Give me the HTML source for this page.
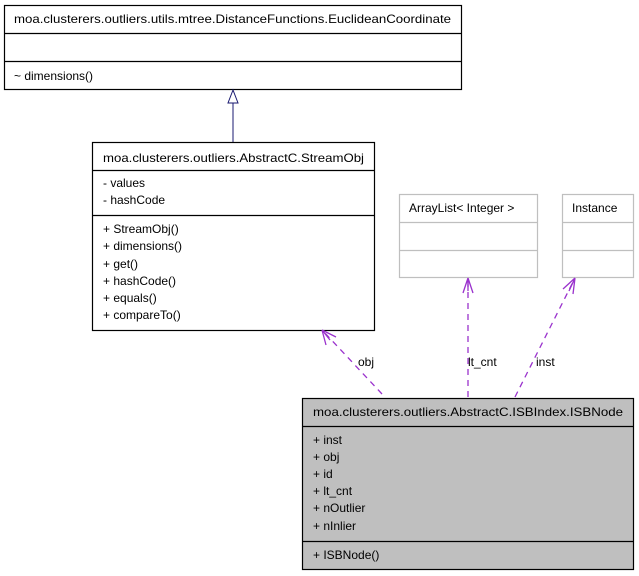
<!DOCTYPE html>
<html><head><meta charset="utf-8"><style>
html,body{margin:0;padding:0;background:#fff;}
svg{display:block;}
text{font-family:"Liberation Sans",Arial,sans-serif;font-size:12px;fill:#000;}
</style></head><body>
<svg width="639" height="576" viewBox="0 0 639 576" xmlns="http://www.w3.org/2000/svg">
<!-- Box1 -->
<rect x="4.5" y="5.5" width="457" height="84" fill="#fff" stroke="#000" stroke-width="1.2"/>
<line x1="4.5" y1="33.5" x2="461.5" y2="33.5" stroke="#000" stroke-width="1.2"/>
<line x1="4.5" y1="61.5" x2="461.5" y2="61.5" stroke="#000" stroke-width="1.2"/>
<text x="14" y="23" textLength="437" lengthAdjust="spacingAndGlyphs">moa.clusterers.outliers.utils.mtree.DistanceFunctions.EuclideanCoordinate</text>
<text x="14" y="80">~ dimensions()</text>

<!-- inheritance -->
<line x1="233" y1="103" x2="233" y2="142" stroke="#191970" stroke-width="1"/>
<polygon points="233,90 228,103 238,103" fill="#fff" stroke="#191970" stroke-width="1"/>

<!-- Box2 -->
<rect x="92.5" y="142.5" width="282" height="188" fill="#fff" stroke="#000" stroke-width="1.2"/>
<line x1="92.5" y1="170.5" x2="374.5" y2="170.5" stroke="#000" stroke-width="1.2"/>
<line x1="92.5" y1="215.5" x2="374.5" y2="215.5" stroke="#000" stroke-width="1.2"/>
<text x="103" y="162" textLength="261" lengthAdjust="spacingAndGlyphs">moa.clusterers.outliers.AbstractC.StreamObj</text>
<text x="103" y="187">- values</text>
<text x="103" y="204">- hashCode</text>
<text x="103" y="233">+ StreamObj()</text>
<text x="103" y="250">+ dimensions()</text>
<text x="103" y="268">+ get()</text>
<text x="103" y="285">+ hashCode()</text>
<text x="103" y="302">+ equals()</text>
<text x="103" y="319">+ compareTo()</text>

<!-- ArrayList -->
<rect x="399.5" y="194.5" width="138" height="83" fill="#fff" stroke="#bfbfbf" stroke-width="1.2"/>
<line x1="399.5" y1="222.5" x2="537.5" y2="222.5" stroke="#bfbfbf" stroke-width="1.2"/>
<line x1="399.5" y1="250.5" x2="537.5" y2="250.5" stroke="#bfbfbf" stroke-width="1.2"/>
<text x="409" y="212">ArrayList&lt; Integer &gt;</text>

<!-- Instance -->
<rect x="562.5" y="194.5" width="71" height="83" fill="#fff" stroke="#bfbfbf" stroke-width="1.2"/>
<line x1="562.5" y1="222.5" x2="633.5" y2="222.5" stroke="#bfbfbf" stroke-width="1.2"/>
<line x1="562.5" y1="250.5" x2="633.5" y2="250.5" stroke="#bfbfbf" stroke-width="1.2"/>
<text x="572" y="212">Instance</text>

<!-- ISBNode -->
<rect x="302.5" y="398.5" width="331" height="171" fill="#bfbfbf" stroke="#000" stroke-width="1.2"/>
<line x1="302.5" y1="426.5" x2="633.5" y2="426.5" stroke="#000" stroke-width="1.2"/>
<line x1="302.5" y1="541.5" x2="633.5" y2="541.5" stroke="#000" stroke-width="1.2"/>
<text x="313" y="416" textLength="310" lengthAdjust="spacingAndGlyphs">moa.clusterers.outliers.AbstractC.ISBIndex.ISBNode</text>
<text x="313" y="444">+ inst</text>
<text x="313" y="461">+ obj</text>
<text x="313" y="478">+ id</text>
<text x="313" y="495">+ lt_cnt</text>
<text x="313" y="512">+ nOutlier</text>
<text x="313" y="530">+ nInlier</text>
<text x="313" y="559">+ ISBNode()</text>

<!-- connectors -->
<g stroke="#9a32cd" stroke-width="1.3" fill="none">
<line x1="382" y1="394" x2="324" y2="332" stroke-dasharray="6,5"/>
<path d="M322,330 L326,345 M322,330 L336,337 M322,330 L330,340"/>
<line x1="468" y1="397" x2="468" y2="280" stroke-dasharray="6,5"/>
<path d="M468,278 L463,293 M468,278 L473,293 M468,278 L468,291"/>
<line x1="515" y1="397" x2="574" y2="280" stroke-dasharray="6,5"/>
<path d="M575,278 L563,289 M575,278 L573,294 M575,278 L569,291"/>
</g>
<text x="358" y="366">obj</text>
<text x="468" y="366">lt_cnt</text>
<text x="536" y="366">inst</text>
</svg>
</body></html>
